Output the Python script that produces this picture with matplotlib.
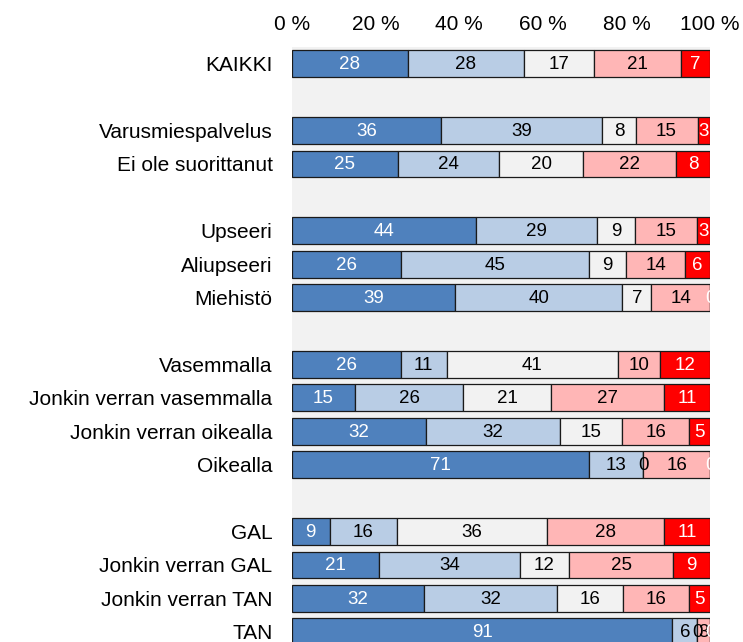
import numpy as np
import matplotlib
matplotlib.use("Agg")
import matplotlib.pyplot as plt

plt.rcParams['font.family'] = ['Liberation Sans', 'DejaVu Sans']

# rows from top to bottom, None = spacer row between groups
categories = [
    "KAIKKI", None,
    "Varusmiespalvelus", "Ei ole suorittanut", None,
    "Upseeri", "Aliupseeri", "Miehistö", None,
    "Vasemmalla", "Jonkin verran vasemmalla", "Jonkin verran oikealla", "Oikealla", None,
    "GAL", "Jonkin verran GAL", "Jonkin verran TAN", "TAN",
]

# answer shares (%) per row, five response classes
very_agree = [28, None, 36, 25, None, 44, 26, 39, None, 26, 15, 32, 71, None, 9, 21, 32, 91]
agree      = [28, None, 39, 24, None, 29, 45, 40, None, 11, 26, 32, 13, None, 16, 34, 32, 6]
neutral    = [17, None, 8, 20, None, 9, 9, 7, None, 41, 21, 15, 0, None, 36, 12, 16, 0]
disagree   = [21, None, 15, 22, None, 15, 14, 14, None, 10, 27, 16, 16, None, 28, 25, 16, 3]
very_dis   = [7, None, 3, 8, None, 3, 6, 0, None, 12, 11, 5, 0, None, 11, 9, 5, 0]

series = [very_agree, agree, neutral, disagree, very_dis]
colors = ["#4f81bd", "#b9cde5", "#f2f2f2", "#ffb6b6", "#ff0000"]
text_colors = ["white", "black", "black", "black", "white"]

fig = plt.figure(figsize=(7.43, 6.42), dpi=100)
ax = fig.add_axes([0.393, -0.0101, 0.5626, 0.937])
ax.set_facecolor("#f2f2f2")

n = len(categories)
for i in range(n):
    if categories[i] is None:
        continue
    vals = [s[i] for s in series]
    total = sum(vals)
    left = 0.0
    for v, c, tc in zip(vals, colors, text_colors):
        w = v / total * 100
        ax.barh(i, w, left=left, height=0.8, color=c, edgecolor="#1a1a1a", linewidth=0.9)
        ax.text(left + w / 2, i + 0.03, str(v), ha="center", va="center",
                color=tc, fontsize=13.5, clip_on=True)
        left += w

ax.set_xlim(0, 100)
ax.set_ylim(n - 0.5, -0.5)
ax.set_yticks([i for i, c in enumerate(categories) if c is not None])
ax.set_yticklabels([c for c in categories if c is not None], fontsize=15)
ax.set_xticks(np.arange(0, 101, 20))
ax.set_xticklabels([f"{t} %" for t in range(0, 101, 20)], fontsize=15)
ax.xaxis.tick_top()
ax.tick_params(axis="both", length=0)
ax.tick_params(axis="x", pad=9)
ax.tick_params(axis="y", pad=14)
for sp in ax.spines.values():
    sp.set_visible(False)

fig.savefig("out.png", dpi=100)
